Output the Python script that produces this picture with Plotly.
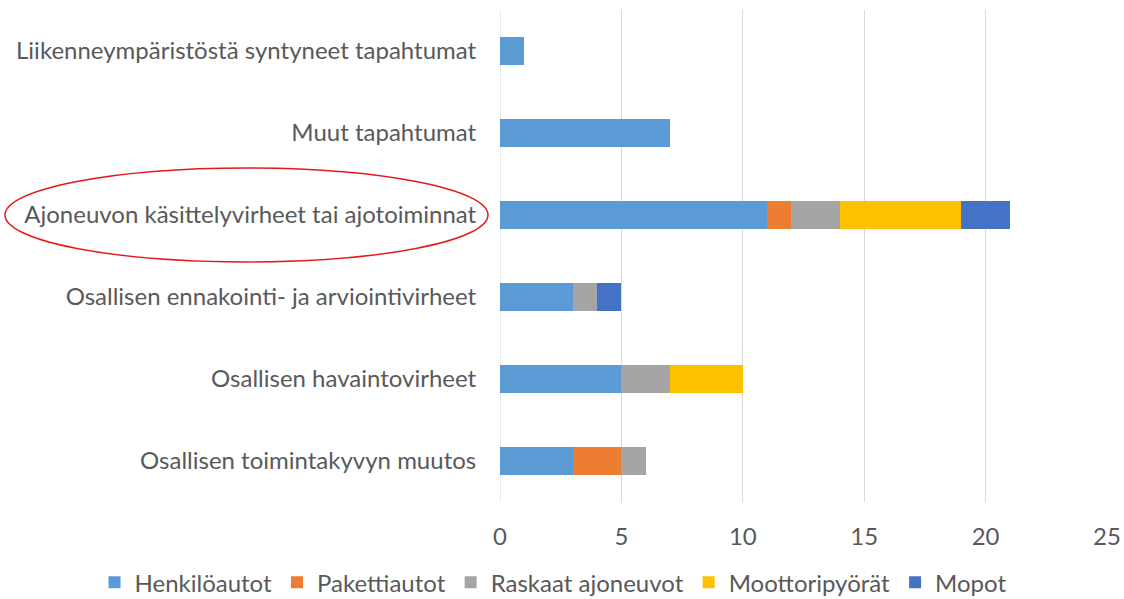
import plotly.graph_objects as go

categories = [
    "Osallisen toimintakyvyn muutos",
    "Osallisen havaintovirheet",
    "Osallisen ennakointi- ja arviointivirheet",
    "Ajoneuvon käsittelyvirheet tai ajotoiminnat",
    "Muut tapahtumat",
    "Liikenneympäristöstä syntyneet tapahtumat",
]
henkiloautot = [3, 5, 3, 11, 7, 1]
pakettiautot = [2, 0, 0, 1, 0, 0]
raskaat_ajoneuvot = [1, 2, 1, 2, 0, 0]
moottoripyorat = [0, 3, 0, 5, 0, 0]
mopot = [0, 0, 1, 2, 0, 0]

series = [
    ("Henkilöautot", henkiloautot, "#5B9BD5"),
    ("Pakettiautot", pakettiautot, "#ED7D31"),
    ("Raskaat ajoneuvot", raskaat_ajoneuvot, "#A5A5A5"),
    ("Moottoripyörät", moottoripyorat, "#FFC000"),
    ("Mopot", mopot, "#4472C4"),
]

FONT = "Lato"
GREY = "#595959"
FS = 24

fig = go.Figure()
for name, vals, col in series:
    fig.add_trace(go.Bar(y=categories, x=vals, name=name, orientation="h",
                         marker=dict(color=col, line=dict(width=0))))

fig.update_layout(
    barmode="stack",
    bargap=0.66,
    width=1124, height=599,
    margin=dict(l=500, r=17, t=10, b=97, autoexpand=False),
    plot_bgcolor="white", paper_bgcolor="white",
    font=dict(family=FONT, size=FS, color=GREY),
    xaxis=dict(range=[0, 25], dtick=5, showgrid=True, gridcolor="#D9D9D9",
               gridwidth=1, zeroline=False, showline=False, automargin=False,
               ticks="outside", ticklen=13, tickcolor="rgba(0,0,0,0)",
               tickfont=dict(size=FS, color=GREY, family=FONT)),
    yaxis=dict(showgrid=False, zeroline=False, showline=False, automargin=False,
               ticks="outside", ticklen=18, tickcolor="rgba(0,0,0,0)",
               tickfont=dict(size=FS, color=GREY, family=FONT)),
    legend=dict(orientation="h", xref="paper", yref="paper",
                x=-0.668, xanchor="left", y=-0.118, yanchor="top",
                font=dict(size=FS, color=GREY, family=FONT), traceorder="normal",
                itemwidth=30),
    showlegend=True,
)

fig.add_shape(type="line", xref="x", yref="paper", x0=0, x1=0, y0=0, y1=1,
              line=dict(color="#D9D9D9", width=1), layer="below")

fig.add_shape(type="circle", xref="paper", yref="paper",
              x0=-0.8155, x1=-0.0198, y0=0.488, y1=0.679,
              line=dict(color="#E31A1C", width=1.5))

fig.write_html("out.html", config={"displayModeBar": False},
               post_script="document.body.style.margin='0';document.body.style.overflow='hidden';")
